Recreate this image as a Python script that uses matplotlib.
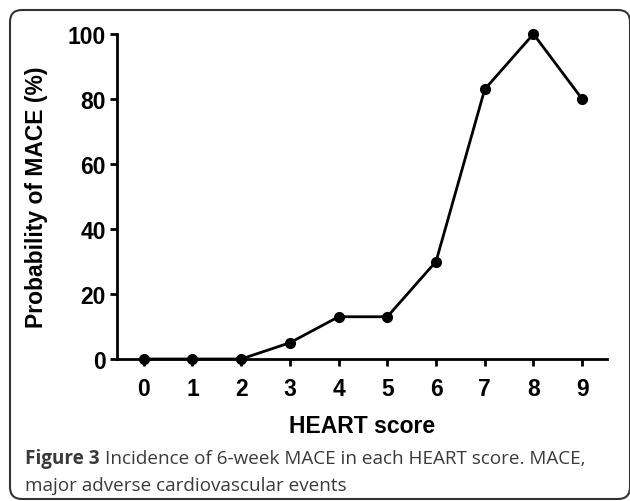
import matplotlib
matplotlib.use("Agg")
import matplotlib.pyplot as plt
from matplotlib.patches import FancyBboxPatch

heart_score = [0, 1, 2, 3, 4, 5, 6, 7, 8, 9]
mace_prob = [0, 0, 0, 5, 13, 13, 30, 83, 100, 80]
y_ticks = [0, 20, 40, 60, 80, 100]

W, H = 630, 502
fig = plt.figure(figsize=(W / 100, H / 100), dpi=100)

def fx(px):
    return px / W

def fy(py):
    return (H - py) / H

ax = fig.add_axes([fx(117), fy(360), fx(607) - fx(117), fy(35) - fy(360)])
ax.plot(heart_score, mace_prob, color="black", lw=2.0, marker="o", ms=7,
        clip_on=False, zorder=5)
ax.set_xlim(-0.55, 9.51)
ax.set_ylim(0, 100)
ax.set_xticks(heart_score)
ax.set_yticks(y_ticks)
for s in ["top", "right"]:
    ax.spines[s].set_visible(False)
for s in ["left", "bottom"]:
    ax.spines[s].set_linewidth(2.0)
ax.tick_params(direction="out", length=5, width=2.0, pad=3)
tick_font = dict(family="Liberation Sans", weight="bold", size=16.5)
ax.set_xticklabels([str(v) for v in heart_score], fontdict=tick_font)
ax.set_yticklabels([str(v) for v in y_ticks], fontdict=tick_font)
ax.tick_params(axis="x", pad=8)
ax.set_xlabel("HEART score", family="Liberation Sans", weight="bold", size=16.5, labelpad=10)
ax.set_ylabel("Probability of MACE (%)", family="Liberation Sans", weight="bold", size=16.5, labelpad=14)

# Caption
cap_color = "#3a3a3a"
t1 = fig.text(fx(25), fy(464), "Figure 3", family="Open Sans", weight="bold",
              size=13.6, color=cap_color, va="baseline")
renderer = fig.canvas.get_renderer()
bb = t1.get_window_extent(renderer)
fig.text((bb.x1 + 5) / W, fy(464), "Incidence of 6-week MACE in each HEART score. MACE,",
         family="Open Sans", size=13.6, color=cap_color, va="baseline")
fig.text(fx(25), fy(491), "major adverse cardiovascular events",
         family="Open Sans", size=13.6, color=cap_color, va="baseline")

# Rounded border
box = FancyBboxPatch((10, 2), 620, 489, boxstyle="round,pad=0,rounding_size=12",
                     transform=None, fill=False, edgecolor="#333333", lw=1.5)
fig.patches.append(box)

fig.savefig("out.png", dpi=100)
